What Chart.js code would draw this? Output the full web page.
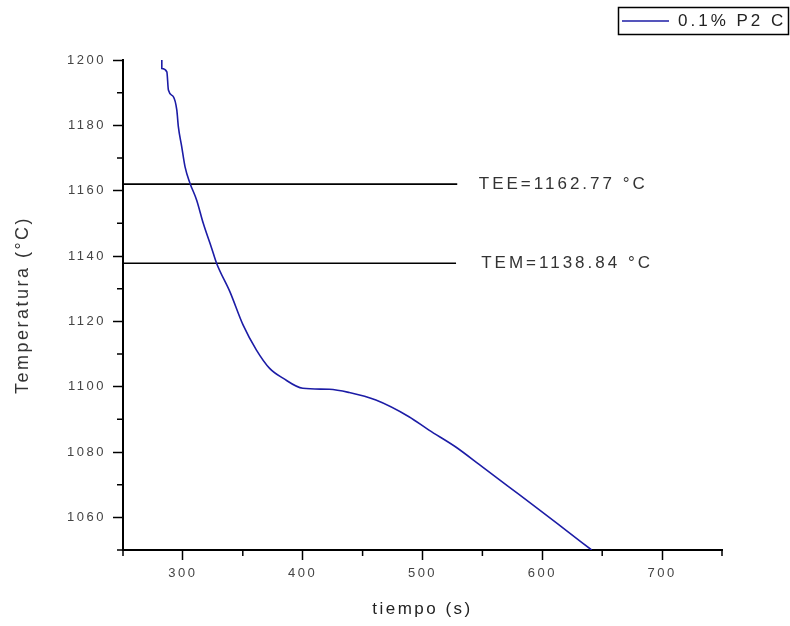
<!DOCTYPE html>
<html>
<head>
<meta charset="utf-8">
<script src="https://cdn.jsdelivr.net/npm/chart.js@4"></script>
<style>
  html, body { margin: 0; padding: 0; background: #fff; }
</style>
</head>
<body>
<canvas id="enfriamiento" width="790" height="626"></canvas>
<script>
// curva de enfriamiento
const tiempo = [282.4, 282.4, 286.6, 287.9, 292.0, 294.9, 296.2, 299.0, 301.8, 305.9, 311.5, 317.0, 324.0, 328.1, 339.2, 350.2, 361.4, 372.4, 383.5, 400.1, 422.3, 438.9, 461.1, 488.7, 505.4, 527.5, 549.7, 571.8, 594.0, 616.1, 641.2];
const temperatura = [1200, 1197.4, 1196.4, 1190.8, 1188.8, 1184.7, 1179.6, 1173.5, 1167.3, 1162.3, 1157.1, 1150.0, 1142.4, 1137.8, 1129.1, 1118.9, 1111.2, 1105.6, 1102.6, 1099.5, 1099.2, 1098.2, 1095.9, 1090.8, 1086.7, 1081.6, 1075.5, 1069.4, 1063.3, 1057.1, 1050];

const xTicks = [300, 400, 500, 600, 700];
const xMinor = [250, 350, 450, 550, 650, 750];
const yTicks = [1060, 1080, 1100, 1120, 1140, 1160, 1180, 1200];
const yMinor = [1050, 1070, 1090, 1110, 1130, 1150, 1170, 1190];

// lineas horizontales TEE / TEM
const lineaNivel = [1162.0, 1137.8];
const lineaFin = [529, 528];
const etiquetas = ["TEE=1162.77 °C", "TEM=1138.84 °C"];
const etiquetaX = [547, 549];
const serie = "0.1% P2 C";

const fam = "'Liberation Sans', Arial, sans-serif";
const azul = "#1c1ca6";

const extras = {
  id: "extras",
  beforeDraw(chart) {
    chart.ctx.letterSpacing = "2.5px";
  },
  afterDraw(chart) {
    const { ctx, chartArea } = chart;
    const x = chart.scales.x, y = chart.scales.y;
    ctx.save();
    ctx.strokeStyle = "#000";
    ctx.lineWidth = 1.5;
    ctx.beginPath();
    xMinor.forEach((v) => {
      const px = x.getPixelForValue(v);
      ctx.moveTo(px, chartArea.bottom);
      ctx.lineTo(px, chartArea.bottom + 6);
    });
    yMinor.forEach((v) => {
      const py = y.getPixelForValue(v);
      ctx.moveTo(chartArea.left - 6, py);
      ctx.lineTo(chartArea.left, py);
    });
    ctx.stroke();

    // etiquetas de las lineas
    ctx.font = "17px " + fam;
    ctx.letterSpacing = "3px";
    ctx.fillStyle = "#333";
    ctx.textBaseline = "middle";
    ctx.textAlign = "left";
    etiquetas.forEach((t, i) => {
      ctx.fillText(t, x.getPixelForValue(etiquetaX[i]), y.getPixelForValue(lineaNivel[i]));
    });

    // leyenda
    ctx.lineWidth = 1.5;
    ctx.strokeStyle = "#000";
    ctx.strokeRect(618.5, 7.5, 170, 27);
    ctx.strokeStyle = azul;
    ctx.beginPath();
    ctx.moveTo(622, 21);
    ctx.lineTo(669, 21);
    ctx.stroke();
    ctx.fillStyle = "#222";
    ctx.fillText(serie, 678, 21);
    ctx.restore();
  },
};

new Chart(document.getElementById("enfriamiento"), {
  type: "line",
  data: {
    datasets: [
      {
        label: serie,
        data: tiempo.map((t, i) => ({ x: t, y: temperatura[i] })),
        borderColor: azul,
        borderWidth: 1.6,
        pointRadius: 0,
        cubicInterpolationMode: "monotone",
      },
      ...lineaNivel.map((v, i) => ({
        label: etiquetas[i],
        data: [{ x: 250, y: v }, { x: lineaFin[i], y: v }],
        borderColor: "#000",
        borderWidth: 1.6,
        pointRadius: 0,
      })),
    ],
  },
  options: {
    responsive: false,
    animation: false,
    layout: { padding: { top: 60, right: 68, left: 0, bottom: 0 } },
    plugins: { legend: { display: false }, tooltip: { enabled: false } },
    scales: {
      x: {
        type: "linear",
        min: 250,
        max: 750,
        afterBuildTicks: (s) => { s.ticks = xTicks.map((v) => ({ value: v })); },
        afterFit: (s) => { s.height = 76; },
        grid: { drawOnChartArea: false, drawTicks: true, tickLength: 10, tickWidth: 1.5, tickColor: "#000" },
        border: { color: "#000", width: 2 },
        ticks: { color: "#444", font: { size: 13, family: fam }, padding: 6, maxRotation: 0, autoSkip: false, callback: (v) => String(v) },
        title: { display: true, text: "tiempo (s)", color: "#222", font: { size: 17, family: fam }, padding: { top: 0, bottom: 6 } },
      },
      y: {
        min: 1050,
        max: 1200,
        afterBuildTicks: (s) => { s.ticks = yTicks.map((v) => ({ value: v })); },
        afterFit: (s) => { s.width = 123; },
        grid: { drawOnChartArea: false, drawTicks: true, tickLength: 10, tickWidth: 1.5, tickColor: "#000" },
        border: { color: "#000", width: 2 },
        ticks: { color: "#444", font: { size: 13, family: fam }, padding: 7, autoSkip: false, callback: (v) => String(v) },
        title: { display: true, text: "Temperatura (°C)", color: "#333", font: { size: 18, family: fam }, padding: { top: 12, bottom: 0 } },
      },
    },
  },
  plugins: [extras],
});
</script>
</body>
</html>
